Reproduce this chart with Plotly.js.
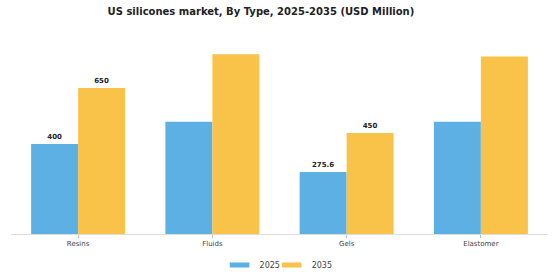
<!DOCTYPE html>
<html>
<head>
<meta charset="utf-8">
<script src="https://cdn.plot.ly/plotly-3.0.1.min.js"></script>
<style>html,body{margin:0;padding:0;background:#fff;}#chart{width:560px;height:280px;}</style>
</head>
<body>
<div id="chart"></div>
<script>
const categories = ["Resins", "Fluids", "Gels", "Elastomer"];
const values2025 = [400, 500, 275.6, 500];
const values2035 = [650, 800, 450, 790];
const labels2025 = ["400", "", "275.6", ""];
const labels2035 = ["650", "", "450", ""];
const seriesNames = ["2025", "2035"];
const seriesColors = ["#5DB0E3", "#F9C248"];

const labelFont = {family: "DejaVu Sans", size: 7, color: "#222", weight: "bold"};

const barTraces = [
  {
    type: "bar", name: seriesNames[0], x: categories, y: values2025,
    text: labels2025, textposition: "outside", textfont: labelFont,
    cliponaxis: false, showlegend: false,
    marker: {color: seriesColors[0]}
  },
  {
    type: "bar", name: seriesNames[1], x: categories, y: values2035,
    text: labels2035, textposition: "outside", textfont: labelFont,
    cliponaxis: false, showlegend: false,
    marker: {color: seriesColors[1]}
  }
];

// legend-only entries with a flat, wide swatch
const legendTraces = seriesNames.map((n, i) => ({
  type: "scatter", mode: "markers", name: n, x: [null], y: [null],
  legend: i === 0 ? "legend" : "legend2",
  marker: {symbol: "line-ew", size: 14, color: seriesColors[i],
           line: {color: seriesColors[i], width: 5}},
  hoverinfo: "skip"
}));

const legendBase = {
  orientation: "h", xref: "container", xanchor: "center",
  yref: "container", y: 0.054, yanchor: "middle",
  font: {family: "DejaVu Sans", size: 8, color: "#444"},
  bgcolor: "rgba(0,0,0,0)"
};

const layout = {
  width: 560, height: 280,
  margin: {l: 11, r: 12, t: 43, b: 46, autoexpand: false},
  paper_bgcolor: "#fff", plot_bgcolor: "#fff",
  title: {
    text: "<b>US silicones market, By Type, 2025-2035 (USD Million)</b>",
    font: {family: "DejaVu Sans", size: 10, color: "#222"},
    xref: "container", x: 0.466, xanchor: "center",
    yref: "container", y: 0.96, yanchor: "middle"
  },
  barmode: "group",
  bargap: 0.3,
  bargroupgap: 0,
  showlegend: true,
  legend: Object.assign({}, legendBase, {x: 0.451}),
  legend2: Object.assign({}, legendBase, {x: 0.544}),
  xaxis: {
    showline: true, linecolor: "#ddd", linewidth: 1,
    ticks: "outside", ticklen: 3, tickcolor: "#bbb",
    tickfont: {family: "DejaVu Sans", size: 7, color: "#444"},
    showgrid: false, zeroline: false, automargin: false
  },
  yaxis: {
    range: [0, 850], visible: false, showgrid: false, zeroline: false, automargin: false
  }
};

Plotly.newPlot("chart", barTraces.concat(legendTraces), layout, {displayModeBar: false, staticPlot: true});
</script>
</body>
</html>
